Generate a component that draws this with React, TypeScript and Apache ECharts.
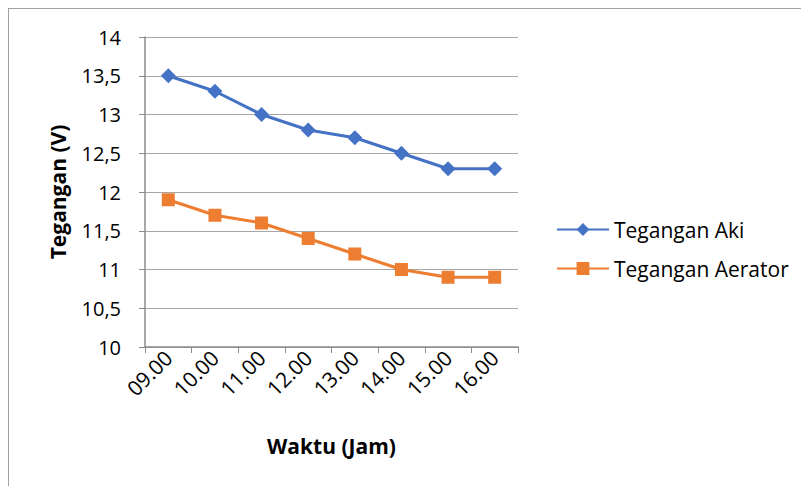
import React, { useEffect, useRef } from "react";
import * as echarts from "echarts";

const categories = ["09.00", "10.00", "11.00", "12.00", "13.00", "14.00", "15.00", "16.00"];
const teganganAki = [13.5, 13.3, 13.0, 12.8, 12.7, 12.5, 12.3, 12.3];
const teganganAerator = [11.9, 11.7, 11.6, 11.4, 11.2, 11.0, 10.9, 10.9];
const FONT = "Open Sans";

export default function App() {
  const ref = useRef<HTMLDivElement>(null);
  useEffect(() => {
    if (!ref.current) return;
    const chart = echarts.init(ref.current, undefined, { renderer: "svg" });
    chart.setOption({
      animation: false,
      textStyle: { fontFamily: FONT },
      grid: { left: 136, top: 28, width: 373, height: 310, containLabel: false },
      legend: {
        orient: "vertical",
        left: 542,
        top: 205,
        itemWidth: 52,
        itemHeight: 16,
        itemGap: 18,
        textStyle: { fontSize: 21, color: "#000", fontFamily: FONT },
        data: ["Tegangan Aki", "Tegangan Aerator"],
      },
      xAxis: {
        type: "category",
        data: categories,
        boundaryGap: true,
        name: "Waktu (Jam)",
        nameLocation: "middle",
        nameGap: 88,
        nameTextStyle: { fontSize: 21, fontWeight: "bold", color: "#000", fontFamily: FONT },
        axisLine: { lineStyle: { color: "#8c8c8c", width: 1.5 } },
        axisTick: { show: true, length: 6, lineStyle: { color: "#8c8c8c" } },
        axisLabel: { rotate: 45, fontSize: 21, color: "#000", margin: 7, fontFamily: FONT },
      },
      yAxis: {
        type: "value",
        min: 10,
        max: 14,
        interval: 0.5,
        name: "Tegangan (V)",
        nameLocation: "middle",
        nameGap: 77,
        nameTextStyle: { fontSize: 21, fontWeight: "bold", color: "#000", fontFamily: FONT },
        axisLine: { show: true, lineStyle: { color: "#8c8c8c", width: 1.5 } },
        axisTick: { show: true, length: 6, lineStyle: { color: "#8c8c8c" } },
        axisLabel: {
          fontSize: 20,
          color: "#000",
          margin: 24,
          fontFamily: FONT,
          formatter: (v: number) => String(v).replace(".", ","),
        },
        splitLine: { lineStyle: { color: "#a6a6a6", width: 1 } },
      },
      series: [
        {
          name: "Tegangan Aki",
          type: "line",
          data: teganganAki,
          symbol: "diamond",
          symbolSize: 15,
          lineStyle: { color: "#4472C4", width: 3 },
          itemStyle: { color: "#4472C4" },
        },
        {
          name: "Tegangan Aerator",
          type: "line",
          data: teganganAerator,
          symbol: "rect",
          symbolSize: 13,
          lineStyle: { color: "#ED7D31", width: 3 },
          itemStyle: { color: "#ED7D31" },
        },
      ],
    });
    return () => chart.dispose();
  }, []);
  return (
    <div
      style={{
        width: 800,
        height: 477,
        borderTop: "1.5px solid #a0a0a0",
        borderLeft: "1.5px solid #a0a0a0",
        overflow: "hidden",
      }}
    >
      <div ref={ref} style={{ width: 800, height: 477 }} />
    </div>
  );
}
